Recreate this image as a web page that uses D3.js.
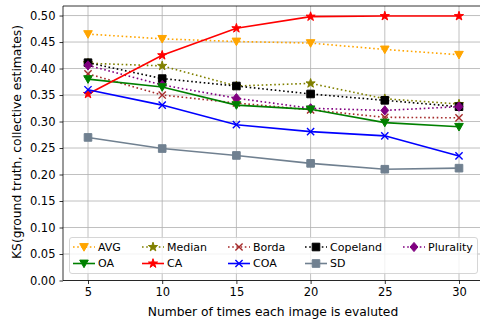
<!DOCTYPE html>
<html><head><meta charset="utf-8">
<script src="https://cdn.jsdelivr.net/npm/d3@7"></script>
<style>body{margin:0;background:#fff}svg{display:block;font-family:"DejaVu Sans",sans-serif}</style>
</head><body><svg id="c" width="480" height="324"></svg>
<script>
const xs = [5, 10, 15, 20, 25, 30];
const yTicks = [0, 0.05, 0.10, 0.15, 0.20, 0.25, 0.30, 0.35, 0.40, 0.45, 0.50];
const seriesNames = ["AVG","Median","Borda","Copeland","Plurality","OA","CA","COA","SD"];
const AVG = [0.465, 0.456, 0.451, 0.448, 0.436, 0.426];
const Median = [0.410, 0.405, 0.367, 0.372, 0.343, 0.333];
const Borda = [0.390, 0.350, 0.335, 0.322, 0.308, 0.307];
const Copeland = [0.411, 0.381, 0.367, 0.352, 0.340, 0.328];
const Plurality = [0.406, 0.369, 0.344, 0.325, 0.321, 0.328];
const OA = [0.380, 0.365, 0.331, 0.323, 0.298, 0.290];
const CA = [0.352, 0.425, 0.476, 0.498, 0.499, 0.499];
const COA = [0.360, 0.331, 0.294, 0.281, 0.273, 0.235];
const SD = [0.270, 0.249, 0.236, 0.221, 0.210, 0.212];
const values = {AVG, Median, Borda, Copeland, Plurality, OA, CA, COA, SD};
const style = {
  AVG:{c:"#ffa500",d:true,m:"tri"},
  Median:{c:"#808000",d:true,m:"star"},
  Borda:{c:"#a52a2a",d:true,m:"x"},
  Copeland:{c:"#000000",d:true,m:"sq"},
  Plurality:{c:"#800080",d:true,m:"dia"},
  OA:{c:"#008000",d:false,m:"tri"},
  CA:{c:"#ff0000",d:false,m:"star"},
  COA:{c:"#0000ff",d:false,m:"x"},
  SD:{c:"#708090",d:false,m:"sq"}
};
const svg = d3.select("#c");
const L=63, R=484, T=6, B=280.5;
const x = d3.scaleLinear().domain([5,30]).range([88,459]);
const y = d3.scaleLinear().domain([0,0.518]).range([B,T]);
const g = svg.append("g");
g.selectAll(".gx").data(xs).enter().append("line").attr("x1",d=>x(d)).attr("x2",d=>x(d)).attr("y1",T).attr("y2",B).attr("stroke","#b0b0b0").attr("stroke-width",0.8);
g.selectAll(".gy").data(yTicks).enter().append("line").attr("y1",d=>y(d)).attr("y2",d=>y(d)).attr("x1",L).attr("x2",R).attr("stroke","#b0b0b0").attr("stroke-width",0.8);
function marker(type){
  if(type==="tri"){return `M-4.3,-3.4L4.3,-3.4L0,4.2Z`;}
  if(type==="sq"){return `M-3.8,-3.8H3.8V3.8H-3.8Z`;}
  if(type==="dia"){return `M0,-4.6L3.9,0L0,4.6L-3.9,0Z`;}
  if(type==="star"){return d3.symbol().type(d3.symbolStar).size(26)();}
  if(type==="x"){return `M-3.6,-3.6L3.6,3.6M-3.6,3.6L3.6,-3.6`;}
}
function drawMarker(sel, type, color){
  const p = sel.append("path").attr("d", marker(type));
  if(type==="x") p.attr("fill","none").attr("stroke",color).attr("stroke-width",1.4);
  else p.attr("fill",color).attr("stroke",color).attr("stroke-width",1);
  return p;
}
const plot = svg.append("g");
const line = d3.line().x((d,i)=>x(xs[i])).y(d=>y(d));
seriesNames.forEach(n=>{
  const st=style[n];
  plot.append("path").datum(values[n]).attr("d",line).attr("fill","none").attr("stroke",st.c).attr("stroke-width",1.6)
    .attr("stroke-dasharray", st.d? "1.6,2.6":null);
  values[n].forEach((v,i)=>{
    drawMarker(plot.append("g").attr("transform",`translate(${x(xs[i])},${y(v)})`), st.m, st.c);
  });
});
const ax = svg.append("g").attr("transform",`translate(0,${B})`).call(d3.axisBottom(x).tickValues(xs).tickSize(3.5).tickPadding(4));
const ay = svg.append("g").attr("transform",`translate(${L},0)`).call(d3.axisLeft(y).tickValues(yTicks).tickFormat(d3.format(".2f")).tickSize(3.5).tickPadding(4));
[ax,ay].forEach(a=>{a.select(".domain").remove();a.selectAll("text").attr("font-size",11.5).attr("font-family","DejaVu Sans").attr("fill","#000");a.selectAll("line").attr("stroke","#000").attr("stroke-width",0.8);});
svg.append("line").attr("x1",L).attr("x2",L).attr("y1",T).attr("y2",B).attr("stroke","#000").attr("stroke-width",0.8);
svg.append("line").attr("x1",L).attr("x2",R).attr("y1",B).attr("y2",B).attr("stroke","#000").attr("stroke-width",0.8);
svg.append("line").attr("x1",L).attr("x2",R).attr("y1",T).attr("y2",T).attr("stroke","#000").attr("stroke-width",0.8);
svg.append("text").attr("x",273).attr("y",316).attr("text-anchor","middle").attr("font-size",12.3).text("Number of times each image is evaluted");
svg.append("text").attr("transform","translate(17,142) rotate(-90)").attr("text-anchor","middle").attr("dominant-baseline","middle").attr("font-size",12.3).text("KS(ground truth, collective estimates)");
const lg = svg.append("g");
lg.append("rect").attr("x",69.5).attr("y",237.5).attr("width",408).attr("height",36).attr("rx",2.5).attr("fill","#fff").attr("fill-opacity",0.8).attr("stroke","#cccccc").attr("stroke-width",0.8);
const cols = [73, 142, 228, 305, 403];
seriesNames.forEach((n,i)=>{
  const st=style[n];
  const cx = cols[i%5], cy = i<5? 247 : 263.5;
  lg.append("line").attr("x1",cx).attr("x2",cx+22).attr("y1",cy).attr("y2",cy).attr("stroke",st.c).attr("stroke-width",1.6).attr("stroke-dasharray",st.d?"1.6,2.6":null);
  drawMarker(lg.append("g").attr("transform",`translate(${cx+11},${cy})`), st.m, st.c);
  lg.append("text").attr("x",cx+25).attr("y",cy).attr("dominant-baseline","central").attr("font-size",11).text(n);
});
</script></body></html>
